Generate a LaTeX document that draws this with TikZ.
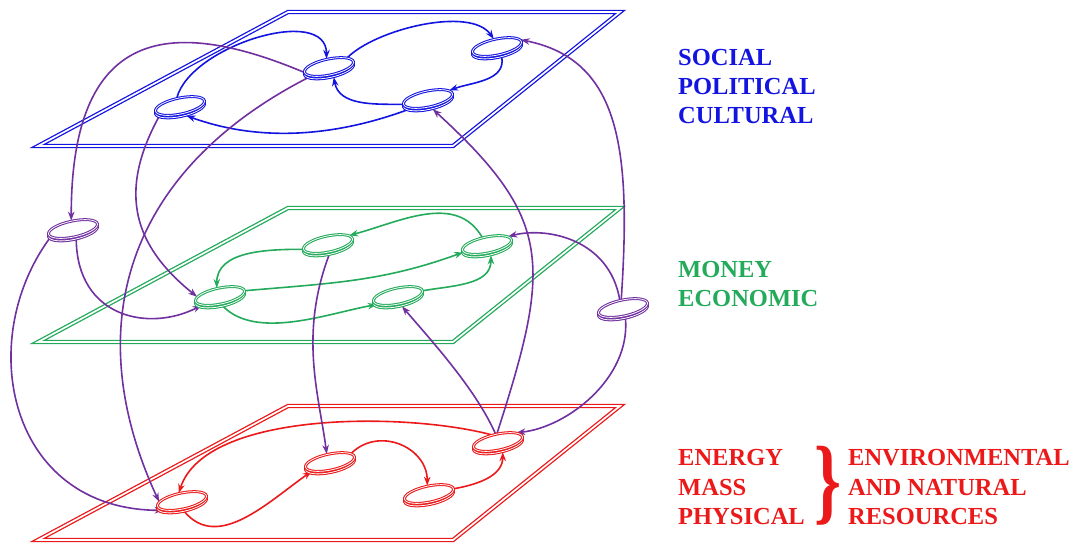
\documentclass[tikz,border=0pt]{standalone}
\usepackage{fontspec}
\usepackage{graphicx}
\setmainfont{Liberation Serif}
\usetikzlibrary{shapes.geometric,arrows.meta}
\pgfdeclarelayer{planelayer}
\pgfdeclarelayer{linklayer}
\pgfsetlayers{planelayer,linklayer,main}
\definecolor{cblue}{RGB}{20,20,225}
\definecolor{cgreen}{RGB}{35,170,90}
\definecolor{cred}{RGB}{235,25,25}
\definecolor{cpurple}{RGB}{112,48,160}
\newcommand\myring[4]{%
  \node[ringbase,draw=#4] (#1s) at (#2,-#3-2.5) {};
  \node[ringbase,draw=#4] (#1) at (#2,-#3) {};
}
\begin{document}
\begin{tikzpicture}[x=1pt,y=1pt,
  plane/.style={line width=1.3pt, double=white, double distance=1.7pt, line join=miter},
  ringbase/.style={ellipse, minimum width=50pt, minimum height=16pt, inner sep=0pt, rotate=12,
    line width=1.05pt, double=white, double distance=0.8pt, fill=white},
  link/.style={line width=1.6pt, -{Stealth[length=9pt,width=6.5pt]}},
  lbl/.style={anchor=base west, inner sep=0pt, font=\fontsize{24.5}{29}\selectfont\bfseries}]
\useasboundingbox (0,0) rectangle (1076,-544);

% rings
\myring{btl}{329}{67}{cblue}
\myring{btr}{497}{47}{cblue}
\myring{bl}{180}{106}{cblue}
\myring{br}{428}{99}{cblue}
\myring{gtl}{328}{244}{cgreen}
\myring{gtr}{487}{245}{cgreen}
\myring{gl}{220}{296}{cgreen}
\myring{gr}{398}{296}{cgreen}
\myring{rl}{182}{501}{cred}
\myring{rm}{330}{462}{cred}
\myring{rr}{429}{494}{cred}
\myring{rtr}{498}{442}{cred}
\myring{pl}{73}{229}{cpurple}
\myring{pr}{623}{308}{cpurple}

\begin{pgfonlayer}{planelayer}
\draw[plane,cblue] (288,-12) -- (620,-12) -- (453,-146) -- (38,-146) -- cycle;
\draw[plane,cgreen] (288,-208) -- (620,-208) -- (453,-342) -- (38,-342) -- cycle;
\draw[plane,cred] (288,-406) -- (620,-406) -- (453,-540) -- (38,-540) -- cycle;
\end{pgfonlayer}

\begin{pgfonlayer}{linklayer}
% blue plane
\draw[link,cblue] (bl.100) to[out=75,in=90,looseness=0.9] (btl.95);
\draw[link,cblue] (btl.15) to[out=45,in=125,looseness=0.7] (btr.100);
\draw[link,cblue] (btrs.290) to[out=-80,in=20] (br.10);
\draw[link,cblue] (br.180) to[out=180,in=-80] (btls.290);
\draw[link,cblue] (brs.190) to[out=200,in=-20,looseness=0.9] (bls.300);
% green plane
\draw[link,cgreen] (gtl.180) to[out=180,in=90] (gl.100);
\draw[link,cgreen] (gtr.110) to[out=120,in=15] (gtl.10);
\draw[link,cgreen] (gl.0) to[out=5,in=200] (gtr.185);
\draw[link,cgreen] (gls.280) to[out=-45,in=190,looseness=0.8] (gr.190);
\draw[link,cgreen] (gr.0) to[out=10,in=-90] (gtrs.285);
% red plane
\draw[link,cred] (rtr.120) to[out=165,in=72,looseness=0.7] (rl.100);
\draw[link,cred] (rls.275) to[out=-50,in=215] (rm.195);
\draw[link,cred] (rm.10) to[out=45,in=90,looseness=1.2] (rr.90);
\draw[link,cred] (rr.0) to[out=10,in=-90] (rtrs.290);
% purple links
\draw[link,cpurple] (btl.180) .. controls +(-138,58) and +(0,190) .. (pl.90);
\draw[link,cpurple] (btl.195) .. controls +(-178,-90) and +(-84,182) .. (rl.170);
\draw[link,cpurple] (bls.190) .. controls +(-42,-77) and +(-62,50) .. (gl.170);
\draw[link,cpurple] (pls.280) .. controls +(1,-78) and +(-53,-27) .. (gl.195);
\draw[link,cpurple] (pls.185) .. controls +(-75,-103) and +(-155,1) .. (rl.195);
\draw[link,cpurple] (gtls.265) .. controls +(-30,-80) and +(-8,60) .. (rm.100);
\draw[link,cpurple] (rtr.95) .. controls +(-20,45) and +(30,-35) .. (grs.285);
\draw[link,cpurple] (rtr.85) .. controls +(55,170) and +(120,-110) .. (brs.290);
\draw[link,cpurple] (pr.90) .. controls +(10,150) and +(100,-20) .. (btr.5);
\draw[link,cpurple] (pr.100) .. controls +(-10,60) and +(40,10) .. (gtr.10);
\draw[link,cpurple] (prs.275) .. controls +(5,-60) and +(50,5) .. (rtr.15);
\end{pgfonlayer}

% labels
\node[lbl,cblue] (t1) at (678,-65) {SOCIAL};
\node[lbl,cblue] (t2) at (678,-94) {POLITICAL};
\node[lbl,cblue] (t3) at (678,-123) {CULTURAL};
\node[lbl,cgreen] (t4) at (678,-277) {MONEY};
\node[lbl,cgreen] (t5) at (678,-306) {ECONOMIC};
\node[lbl,cred] (t6) at (678,-465) {ENERGY};
\node[lbl,cred] (t7) at (678,-495) {MASS};
\node[lbl,cred] (t8) at (678,-524) {PHYSICAL};
\node[lbl,cred] (t9) at (848,-465) {ENVIRONMENTAL};
\node[lbl,cred] (t10) at (848,-495) {AND NATURAL};
\node[lbl,cred] (t11) at (848,-524) {RESOURCES};
\node[cred,inner sep=0pt,font=\fontsize{24.5}{29}\selectfont\bfseries] (brace) at (828,-486) {\scalebox{2.8}[3.9]{\}}};
\end{tikzpicture}
\end{document}
